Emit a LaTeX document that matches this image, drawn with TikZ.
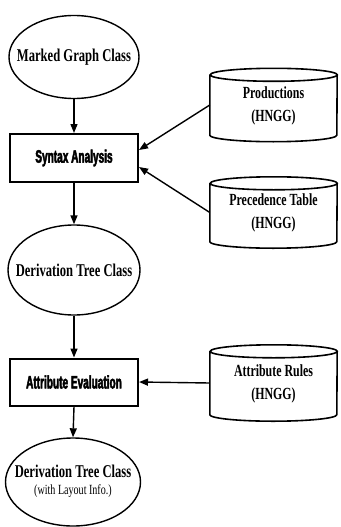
\documentclass[tikz,border=0pt]{standalone}
\usepackage{fontspec}
\usetikzlibrary{shapes.geometric,arrows.meta}
% condensed faces for the labels
\newfontfamily\ovalfont[FakeStretch=0.7]{Liberation Serif Bold}
\newfontfamily\notefont[FakeStretch=0.72]{Liberation Serif}
\newfontfamily\boxfont[FakeStretch=0.56,FakeBold=2.5]{Liberation Sans Bold}
% centred two-line label, lowered by #1
\newcommand{\stacklabel}[3]{\raisebox{-#1}{\begin{tabular}{@{}c@{}}#2\\#3\end{tabular}}}

\begin{document}
\begin{tikzpicture}[x=1pt,y=-1pt,
  oval/.style={ellipse, draw, line width=1.4pt, inner sep=0pt,
    font=\ovalfont\fontsize{18}{20}\selectfont},
  stepbox/.style={rectangle, draw, line width=2pt, minimum width=128pt,
    minimum height=48pt, inner sep=0pt, font=\boxfont\fontsize{18}{20}\selectfont},
  store/.style={rectangle, minimum width=127pt, inner sep=0pt,
    font=\ovalfont\fontsize{17}{23}\selectfont},
  cyl/.style={line width=1.6pt},
  flow/.style={-{Triangle[length=9pt,width=7pt]}, line width=1.4pt}]

\useasboundingbox (0,0) rectangle (340,527);

% main processing chain
\node[oval, minimum width=130pt, minimum height=83pt] (mg) at (74,57)
  {\makebox[0pt]{Marked Graph Class}};
\node[stepbox] (sa) at (74,158) {Syntax Analysis};
\node[oval, minimum width=132pt, minimum height=90pt] (dt) at (74,270)
  {\makebox[0pt]{Derivation Tree Class}};
\node[stepbox, minimum height=47pt] (ae) at (74,382) {Attribute Evaluation};
\node[oval, minimum width=135pt, minimum height=88pt] (dl) at (73,482)
  {\makebox[0pt]{\raisebox{-8pt}{\begin{tabular}{@{}c@{}}Derivation Tree Class\\[-3pt]
   {\notefont\fontsize{14}{16}\selectfont (with Layout Info.)}\end{tabular}}}};

% data stores
\node[store, minimum height=73pt] (pr) at (273.5,105) {\stacklabel{3.5pt}{Productions}{(HNGG)}};
\node[store, minimum height=71pt] (pt) at (273.5,212.5) {\stacklabel{4pt}{Precedence Table}{(HNGG)}};
\node[store, minimum height=76pt] (ar) at (273.5,383) {\stacklabel{3pt}{Attribute Rules}{(HNGG)}};

% cylinder outlines round the stores
\foreach \c in {pr,pt,ar}{
  \draw[cyl] ([yshift=-6.5pt]\c.north west) -- ([yshift=6.5pt]\c.south west)
    arc[start angle=180, end angle=360, x radius=63.5pt, y radius=6.5pt]
    -- ([yshift=-6.5pt]\c.north east)
    arc[start angle=0, end angle=180, x radius=63.5pt, y radius=6.5pt]
    arc[start angle=180, end angle=360, x radius=63.5pt, y radius=6.5pt];
}

% connectors
\draw[flow] (mg.south) -- (sa.north);
\draw[flow] (sa.south) -- (dt.north);
\draw[flow] (dt.south) -- (ae.north);
\draw[flow] (ae.south) -- (dl.north);
\draw[flow] (pr.west) -- ([yshift=8pt]sa.east);
\draw[flow] (pt.west) -- ([yshift=-9pt]sa.east);
\draw[flow] (ar.west) -- (ae.east);
\end{tikzpicture}
\end{document}
